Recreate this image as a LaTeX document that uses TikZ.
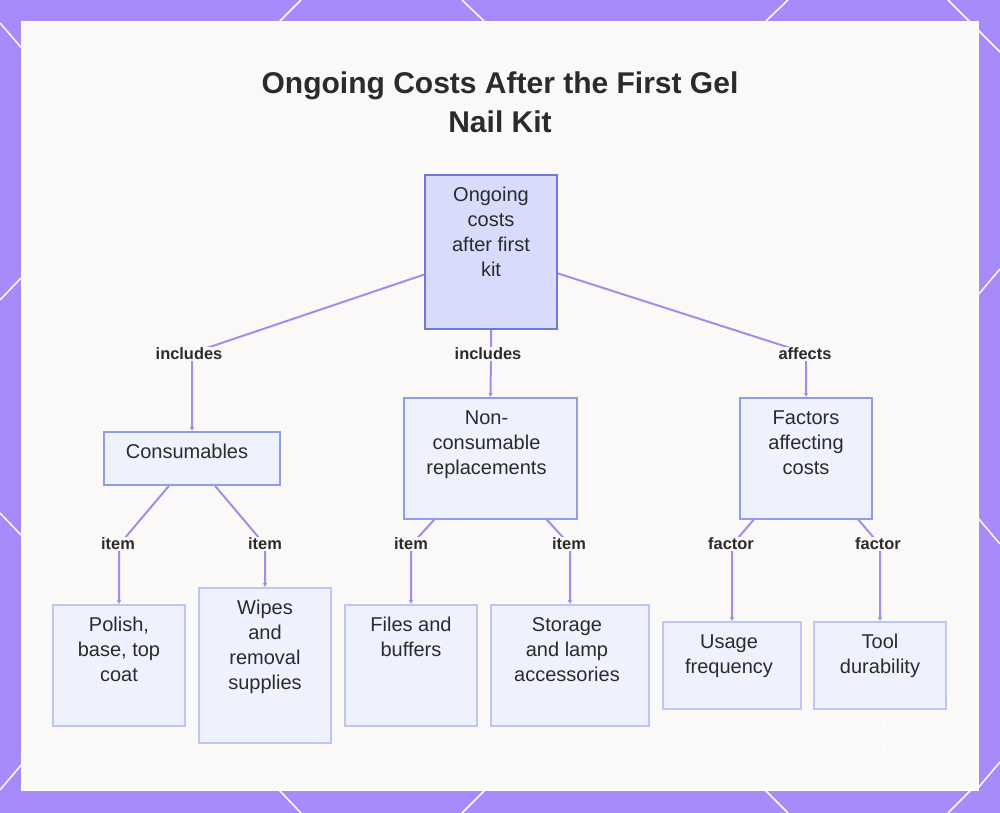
\documentclass[tikz,border=0pt]{standalone}
\usepackage{fontspec}
\setmainfont{Liberation Sans}
\usetikzlibrary{arrows.meta}
\definecolor{frame}{HTML}{A78BFA}
\definecolor{panel}{HTML}{FAF9F8}
\definecolor{rootfill}{HTML}{D8DCFC}
\definecolor{rootdraw}{HTML}{7078DC}
\definecolor{midfill}{HTML}{EEF1FE}
\definecolor{middraw}{HTML}{8E9CEB}
\definecolor{leaffill}{HTML}{EFF2FE}
\definecolor{leafdraw}{HTML}{C0C6F4}
\definecolor{edgecol}{HTML}{A68CE8}
\definecolor{ink}{HTML}{2B2B2B}
\tikzset{
  wh/.style 2 args={minimum width=#1*0.75pt, minimum height=#2*0.75pt},
  rootbox/.style={draw=rootdraw, fill=rootfill, line width=1.4pt, inner sep=0pt},
  midbox/.style={draw=middraw, fill=midfill, line width=1.2pt, inner sep=0pt},
  leafbox/.style={draw=leafdraw, fill=leaffill, line width=1.2pt, inner sep=0pt},
  boxtext/.style={anchor=north, inner sep=0pt, align=center, text=ink,
    font=\fontsize{15}{18.75}\selectfont},
  elabel/.style={fill=panel, inner sep=1pt, text=ink, font=\bfseries\fontsize{12.3}{14}\selectfont},
  edge/.style={draw=edgecol, line width=1.5pt, line join=round,
    -{Latex[length=3pt,width=3.5pt]}},
  deco/.style={draw=white, line width=1.1pt}
}
\begin{document}
\begin{tikzpicture}[x=0.75pt,y=-0.75pt]
% frame
\fill[frame] (0,0) rectangle (1000,813);
\useasboundingbox (0,0) rectangle (1000,813);
% decorative white lines in frame
\draw[deco] (0,23) -- (26,53);
\draw[deco] (279,22) -- (301,0);
\draw[deco] (462,0) -- (485,22);
\draw[deco] (765,22) -- (788,0);
\draw[deco] (948,0) -- (1000,52);
\draw[deco] (0,300) -- (22,277);
\draw[deco] (0,513) -- (22,536);
\draw[deco] (0,790) -- (22,764);
\draw[deco] (978,295) -- (1000,269);
\draw[deco] (978,518) -- (1000,544);
\draw[deco] (978,788) -- (1000,762);
\draw[deco] (279,790) -- (301,813);
\draw[deco] (485,790) -- (462,813);
\draw[deco] (765,790) -- (788,813);
\draw[deco] (971,790) -- (948,813);
% panel
\fill[panel] (22,22) rectangle (978,790);
\draw[white, line width=1.5pt] (22,22) rectangle (978,790);
\draw[white, line width=0.6pt] (925,737) circle (43);

% title
\node[anchor=north, inner sep=0pt, align=center, text=ink,
  font=\bfseries\fontsize{22.5}{29.25}\selectfont] (title) at (500,71)
  {Ongoing Costs After the First Gel\\Nail Kit};

% boxes
\node[rootbox, wh={132}{154}] (root) at (491,252) {};
\node[midbox, wh={176}{53}] (cons) at (192,458.5) {};
\node[midbox, wh={173}{121}] (noncons) at (490.5,458.5) {};
\node[midbox, wh={132}{121}] (factors) at (806,458.5) {};
\node[leafbox, wh={132}{121}] (polish) at (119,665.5) {};
\node[leafbox, wh={132}{155}] (wipes) at (265,665.5) {};
\node[leafbox, wh={132}{121}] (files) at (411,665.5) {};
\node[leafbox, wh={158}{121}] (storage) at (570,665.5) {};
\node[leafbox, wh={138}{87}] (usage) at (732,665.5) {};
\node[leafbox, wh={132}{87}] (tool) at (880,665.5) {};

% box texts
\node[boxtext] (root-t) at ([yshift=-13*0.75pt]root.north) {Ongoing\\costs\\after first\\kit};
\node[boxtext] (cons-t) at ([xshift=-5*0.75pt,yshift=-13*0.75pt]cons.north) {Consumables};
\node[boxtext] (noncons-t) at ([xshift=-4*0.75pt,yshift=-13*0.75pt]noncons.north) {Non-\\consumable\\replacements};
\node[boxtext] (factors-t) at ([yshift=-13*0.75pt]factors.north) {Factors\\affecting\\costs};
\node[boxtext] (polish-t) at ([yshift=-13*0.75pt]polish.north) {Polish,\\base, top\\coat};
\node[boxtext] (wipes-t) at ([yshift=-13*0.75pt]wipes.north) {Wipes\\and\\removal\\supplies};
\node[boxtext] (files-t) at ([yshift=-13*0.75pt]files.north) {Files and\\buffers};
\node[boxtext] (storage-t) at ([xshift=-3*0.75pt,yshift=-13*0.75pt]storage.north) {Storage\\and lamp\\accessories};
\node[boxtext] (usage-t) at ([xshift=-3*0.75pt,yshift=-13*0.75pt]usage.north) {Usage\\frequency};
\node[boxtext] (tool-t) at ([yshift=-13*0.75pt]tool.north) {Tool\\durability};

% bend points
\coordinate (b1) at (192,353);
\coordinate (b2) at (491,353);
\coordinate (b3) at (806,353);
\coordinate (c1) at (119,545);
\coordinate (c2) at (265,545);
\coordinate (c3) at (411,545);
\coordinate (c4) at (570,545);
\coordinate (c5) at (732,545);
\coordinate (c6) at (880,545);

% edges
\draw[edge] (root) -- (b1) -- (cons.north);
\draw[edge] (root) -- (b2) -- (noncons.north);
\draw[edge] (root) -- (b3) -- (factors.north);
\draw[edge] (cons) -- (c1) -- (polish.north);
\draw[edge] (cons) -- (c2) -- (wipes.north);
\draw[edge] (noncons) -- (c3) -- (files.north);
\draw[edge] (noncons) -- (c4) -- (storage.north);
\draw[edge] (factors) -- (c5) -- (usage.north);
\draw[edge] (factors) -- (c6) -- (tool.north);

% edge labels
\node[elabel] (l1) at (189,354) {includes};
\node[elabel] (l2) at (488,354) {includes};
\node[elabel] (l3) at (805,354) {affects};
\node[elabel] (l4) at (118,544) {item};
\node[elabel] (l5) at (265,544) {item};
\node[elabel] (l6) at (411,544) {item};
\node[elabel] (l7) at (569,544) {item};
\node[elabel] (l8) at (731,544) {factor};
\node[elabel] (l9) at (878,544) {factor};
\end{tikzpicture}
\end{document}
